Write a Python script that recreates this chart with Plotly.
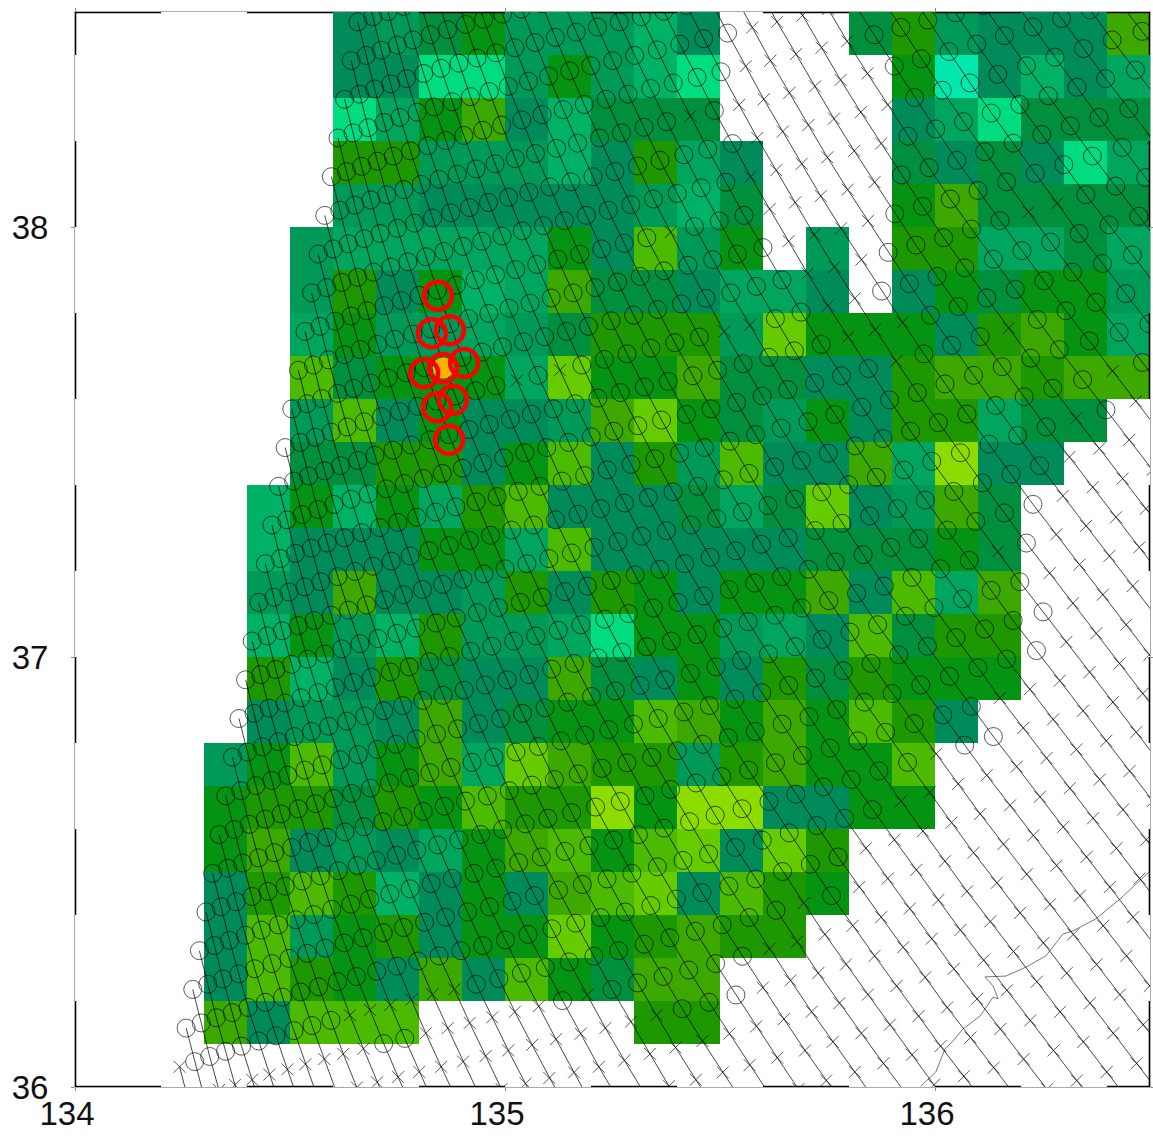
import plotly.graph_objects as go

# ---- gridded field: one string per 0.1 degree row, north to south, letters are colour levels ----
cell_rows = [
    "......fegheeecf...giefffj",
    "......ffbbehecb....hafcfd",
    "......bdhjfcggg....fdbggg",
    "......iieeecfidf...gfgfbd",
    "......eefffffecg...hjgggg",
    ".....edddddhfkeh.e.iiddgd",
    ".....eifhcdjggfddf.fhghhe",
    ".....dheedegiiielhhhfijhd",
    ".....kghhhdlhhjggffijjijj",
    ".....ekfhffejlhgehfiidgg.",
    ".....ggiifhkfiekffjdmff..",
    "....chchdikfffgdglfejg...",
    "....cfffhhdkfffffggghg...",
    "....efjffeifihfhhjfkdj...",
    "....checieedbhhedfkgii...",
    "....icfigffjgfhfigihhh...",
    "....feefjfghhkjhjhkif....",
    "...ehkehjdljiieijhhk.....",
    "...hiigihkiimhmmffhh.....",
    "...hjfefdhjkhklfli.......",
    "...fikicfhfjklfkih.......",
    "...fkehifhhlhijii........",
    "...fkihfjfkhgjj..........",
    "...jfkkk.....ii..........",
    ".........................",
]
levels = "abcdefghijklm"
level_colors = ["#00E8AE", "#00DC80", "#00B266", "#00A65E", "#009A58", "#008C5A", "#008F3C",
                "#049412", "#1E9800", "#3CA800", "#4CBA00", "#66CC00", "#8CDC00"]
cell_lon = [134.05 + 0.1 * k for k in range(25)]
cell_lat = [38.45 - 0.1 * k for k in range(25)]

# ---- footprint scan geometry (degrees) ----
scan_lon0, scan_lat0 = 134.6116, 38.207
row_dlon, row_dlat = -0.01535, -0.09
scan_dlon = [.035, .035, .037, .037, .040, .040, .042, .042, .044, .044, .047, .047, .049, .049, .051, .051,
             .0525, .0525, .0555, .0555, .0575, .0575, .0595, .0595, .0595, .0625, .0625, .0625, .0645, .0645, .0645, .0665,
             .0665, .0665, .0665, .0695, .0695, .0695, .0695, .0695, .0695, .0695, .0695, .0695, .0695, .0695]
scan_dlat = [.012] * 16 + [.013] * 6 + [.015] * 4 + [.017] * 4 + [.020] * 16

# footprints drawn as crosses inside the coloured area
cross_on_cells = [
    (135.437, 38.253), (135.128, 37.656), (135.023, 37.626), (135.388, 37.986), (135.507, 37.756),
    (135.565, 37.772), (135.574, 38.116), (135.809, 38.440), (135.721, 37.986), (135.705, 37.895),
    (135.763, 37.916), (135.747, 37.826), (135.798, 37.756), (135.860, 37.767), (135.921, 37.779),
    (135.909, 37.698), (136.174, 37.767), (136.228, 38.040), (136.298, 38.063), (136.426, 37.672),
    (136.142, 37.249), (136.337, 37.558), (136.142, 36.912), (135.967, 36.686), (135.898, 36.670),
    (135.674, 36.437), (135.653, 36.344), (135.588, 36.326), (135.321, 36.170), (135.426, 36.119),
    (134.726, 36.181), (134.772, 36.181), (134.814, 36.212), (134.867, 36.221), (135.167, 36.212),
    (134.633, 36.153), (134.679, 36.165), (135.786, 37.998),
]
# footprints drawn as circles outside the coloured area
circle_on_white = [
    (135.526, 38.447), (135.512, 38.358), (135.495, 38.267), (135.600, 37.951), (135.909, 38.377),
    (135.909, 38.035), (135.891, 37.947), (135.874, 37.853), (136.228, 37.358), (136.212, 37.267),
    (136.193, 37.179), (136.244, 37.109), (136.230, 37.021), (136.126, 36.819), (136.053, 36.793),
    (135.523, 36.305), (135.512, 36.221), (134.272, 36.056), (134.309, 36.067), (134.349, 36.077),
    (134.388, 36.086), (134.423, 36.088), (134.465, 36.107),
]

red_lon = [134.844, 134.830, 134.872, 134.812, 134.856, 134.905, 134.842, 134.879, 134.870]
red_lat = [37.840, 37.753, 37.760, 37.660, 37.672, 37.684, 37.581, 37.598, 37.505]
peak_lon, peak_lat = [134.856], [37.672]

coast_lon = [136.500, 136.430, 136.374, 136.321, 136.298, 136.274, 136.258, 136.212, 136.165, 136.116,
             136.135, 136.147, 136.135, 136.105, 136.065, 136.042, 136.023, 136.002, 135.967]
coast_lat = [36.502, 36.437, 36.391, 36.363, 36.356, 36.326, 36.305, 36.279, 36.258, 36.256,
             36.235, 36.205, 36.209, 36.165, 36.135, 36.107, 36.088, 36.035, 36.002]

x_ticks = [134, 135, 136]
y_ticks = [36, 37, 38]
x_black = [(134.0, 134.2), (134.4, 134.6), (134.8, 135.0), (135.2, 135.4), (135.6, 135.8), (136.0, 136.2), (136.4, 136.5)]
y_black = [(36.0, 36.2), (36.4, 36.6), (36.8, 37.0), (37.2, 37.4), (37.6, 37.8), (38.0, 38.2), (38.4, 38.5)]

# ---- build ----
z = [[levels.index(c) if c != "." else None for c in row] for row in cell_rows]
n = len(levels)
colorscale = []
for k, col in enumerate(level_colors):
    colorscale += [[k / n, col], [(k + 1) / n, col]]

cum_lon, cum_lat = [0.0], [0.0]
for a, b in zip(scan_dlon, scan_dlat):
    cum_lon.append(cum_lon[-1] + a)
    cum_lat.append(cum_lat[-1] + b)
n_i = len(cum_lon)
J0, J1 = -60, 33


def pos(j, i):
    return scan_lon0 + j * row_dlon + cum_lon[i], scan_lat0 + j * row_dlat + cum_lat[i]


def has_cell(lon, lat):
    c = int((lon - 134) / 0.1)
    r = int((38.5 - lat) / 0.1)
    return 0 <= r < 25 and 0 <= c < 25 and z[r][c] is not None


def west_of_cells(lon, lat):
    r = int((38.5 - lat) / 0.1)
    if not 0 <= r < 25:
        return False
    cols = [k for k, v in enumerate(z[r]) if v is not None]
    return bool(cols) and lon < 134 + 0.1 * cols[0]


points = {}
for j in range(-3, J1):
    for i in range(n_i):
        lon, lat = pos(j, i)
        if 133.9 < lon < 136.6 and 35.9 < lat < 38.6:
            points[(j, i)] = (lon, lat)


def nearest(p):
    return min(points, key=lambda k: (points[k][0] - p[0]) ** 2 + (points[k][1] - p[1]) ** 2)


force_cross = {nearest(p) for p in cross_on_cells}
force_circle = {nearest(p) for p in circle_on_white}

cx, cy, xx, xy = [], [], [], []
for key, (lon, lat) in points.items():
    circle = has_cell(lon, lat) or (west_of_cells(lon, lat) and key[0] <= 23)
    if key in force_cross:
        circle = False
    if key in force_circle:
        circle = True
    if circle:
        cx.append(lon); cy.append(lat)
    else:
        xx.append(lon); xy.append(lat)

line_x, line_y = [], []
for d in range(J0, J1):
    for i in range(n_i):
        j = d + i
        if j < J1:
            lon, lat = pos(j, i)
            line_x.append(lon); line_y.append(lat)
    line_x.append(None); line_y.append(None)

ink = "rgba(0,0,0,0.72)"
fig = go.Figure()
fig.add_trace(go.Heatmap(x=cell_lon, y=cell_lat, z=z, colorscale=colorscale, zmin=-0.5, zmax=n - 0.5,
                         showscale=False, hoverongaps=False))
fig.add_trace(go.Scatter(x=coast_lon, y=coast_lat, mode="lines", line=dict(color="#777777", width=1)))
fig.add_trace(go.Scatter(x=line_x, y=line_y, mode="lines", line=dict(color=ink, width=1)))
fig.add_trace(go.Scatter(x=cx, y=cy, mode="markers",
                         marker=dict(symbol="circle-open", size=18, color=ink, line=dict(width=0.9, color=ink))))
fig.add_trace(go.Scatter(x=xx, y=xy, mode="markers",
                         marker=dict(symbol="x-thin", size=12, color=ink, line=dict(width=0.9, color=ink))))
fig.add_trace(go.Scatter(x=peak_lon, y=peak_lat, mode="markers",
                         marker=dict(symbol="circle", size=21, color="#FFB000")))
fig.add_trace(go.Scatter(x=red_lon, y=red_lat, mode="markers",
                         marker=dict(symbol="circle-open", size=28, color="#FF0000", line=dict(width=4.5, color="#FF0000"))))

for a, b in x_black:
    for y in (36.0, 38.5):
        fig.add_trace(go.Scatter(x=[a, b], y=[y, y], mode="lines", cliponaxis=False,
                                 line=dict(color="black", width=2.6)))
for a, b in y_black:
    for x in (134.0, 136.5):
        fig.add_trace(go.Scatter(x=[x, x], y=[a, b], mode="lines", cliponaxis=False,
                                 line=dict(color="black", width=2.6)))

axis_font = dict(family="Liberation Sans, sans-serif", size=33, color="#111111")
fig.update_layout(
    width=1153, height=1139, showlegend=False, hovermode=False,
    margin=dict(l=75, r=3, t=12, b=52, autoexpand=False),
    paper_bgcolor="white", plot_bgcolor="white",
    xaxis=dict(range=[134, 136.5], tickvals=x_ticks, ticktext=[str(v) for v in x_ticks], showgrid=False,
               zeroline=False, showline=True, mirror="ticks", linecolor="#aaaaaa", linewidth=1, automargin=False,
               ticks="outside", ticklen=3, tickcolor="#888888", tickfont=axis_font, ticklabelshift=-8,
               ticklabelstandoff=-6),
    yaxis=dict(range=[36, 38.5], tickvals=y_ticks, ticktext=[str(v) for v in y_ticks], showgrid=False,
               zeroline=False, showline=True, mirror="ticks", linecolor="#aaaaaa", linewidth=1, automargin=False,
               ticks="outside", ticklen=3, tickcolor="#888888", tickfont=axis_font, ticklabelstandoff=16),
)
fig.write_html("out.html", config={"displayModeBar": False},
               post_script="document.body.style.margin='0';document.body.style.overflow='hidden';")
